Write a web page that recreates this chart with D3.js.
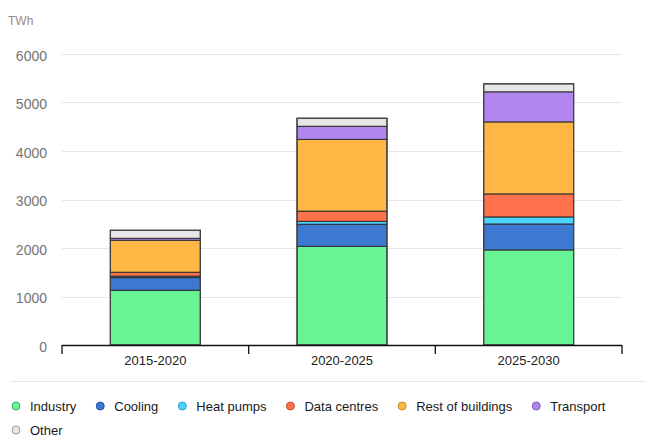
<!DOCTYPE html>
<html>
<head>
<meta charset="utf-8">
<script src="https://cdn.jsdelivr.net/npm/d3@7"></script>
<style>
  body { margin: 0; background: #fff; }
  svg { display: block; font-family: "Liberation Sans", Arial, sans-serif; }
</style>
</head>
<body>
<div id="chart-area"></div>
<script>
// data (TWh)
var periods = ["2015-2020", "2020-2025", "2025-2030"]
var seriesNames = ["Industry", "Cooling", "Heat pumps", "Data centres", "Rest of buildings", "Transport", "Other"]
var industry = [1130, 2035, 1960]
var cooling = [260, 455, 535]
var heatPumps = [30, 60, 145]
var dataCentres = [80, 210, 475]
var restOfBuildings = [660, 1480, 1485]
var transport = [40, 270, 620]
var other = [165, 165, 165]
var yTicks = [0, 1000, 2000, 3000, 4000, 5000, 6000]

var colors = ["#68f494", "#3d79d1", "#4bd4ff", "#ff724b", "#feb744", "#b286ef", "#e6e6e6"]
var legendStroke = ["#3fae62", "#2a569a", "#2b9fc4", "#c4502f", "#c98a26", "#7f5cb5", "#9a9a9a"]

var seriesValues = [industry, cooling, heatPumps, dataCentres, restOfBuildings, transport, other]

var rows = periods.map(function(p, i) {
  var row = { period: p }
  seriesNames.forEach(function(name, j) { row[name] = seriesValues[j][i] })
  return row
})

var W = 651, H = 440
var plotLeft = 62, plotRight = 622, plotTop = 54, plotBottom = 345

var svg = d3.select("#chart-area")
  .append("svg")
  .attr("width", W)
  .attr("height", H)

var x = d3.scaleBand()
  .domain(periods)
  .range([plotLeft, plotRight])
  .paddingInner(0.518)
  .paddingOuter(0.259)

var y = d3.scaleLinear()
  .domain([0, 6000])
  .range([plotBottom, plotTop])

// unit label
svg.append("text")
  .text("TWh")
  .attr("x", 8)
  .attr("y", 25)
  .attr("font-size", "12px")
  .attr("fill", "#9c8b7e")

// gridlines
svg.append("g")
  .selectAll("line")
  .data(yTicks.filter(d => d > 0))
  .enter()
  .append("line")
  .attr("x1", plotLeft)
  .attr("x2", plotRight)
  .attr("y1", d => Math.round(y(d)) + 0.5)
  .attr("y2", d => Math.round(y(d)) + 0.5)
  .attr("stroke", "#e6e6e6")
  .attr("stroke-width", 1)

// y axis labels (no line)
var yAxisCall = d3.axisLeft(y)
  .tickValues(yTicks)
  .tickSize(0)
  .tickPadding(0)
  .tickFormat(d => d)

var yAxis = svg.append("g")
  .attr("transform", "translate(47,2)")
  .call(yAxisCall)
yAxis.select(".domain").remove()
yAxis.selectAll("text")
  .attr("font-size", "14px")
  .attr("font-family", "Liberation Sans, Arial, sans-serif")
  .attr("fill", "#747474")

// stacked bars
var stack = d3.stack().keys(seriesNames)
var stacked = stack(rows)

var layers = svg.append("g")
  .selectAll("g")
  .data(stacked)
  .enter()
  .append("g")
  .attr("fill", (d, i) => colors[i])

layers.selectAll("rect")
  .data(d => d)
  .enter()
  .append("rect")
  .attr("x", d => x(d.data.period))
  .attr("width", x.bandwidth())
  .attr("y", d => y(d[1]))
  .attr("height", d => y(d[0]) - y(d[1]))
  .attr("stroke", "#2b2b2b")
  .attr("stroke-width", 1)

// bar outline
svg.append("g")
  .selectAll("rect")
  .data(rows)
  .enter()
  .append("rect")
  .attr("x", d => x(d.period))
  .attr("width", x.bandwidth())
  .attr("y", d => y(d3.sum(seriesNames, k => d[k])))
  .attr("height", d => plotBottom - y(d3.sum(seriesNames, k => d[k])))
  .attr("fill", "none")
  .attr("stroke", "#444")
  .attr("stroke-width", 1.2)

// x axis with ticks at band boundaries
var boundaries = d3.scaleLinear().domain([0, periods.length]).range([plotLeft, plotRight])
var xg = svg.append("g")
xg.append("line")
  .attr("x1", plotLeft)
  .attr("x2", plotRight)
  .attr("y1", plotBottom + 0.5)
  .attr("y2", plotBottom + 0.5)
  .attr("stroke", "#111")
  .attr("stroke-width", 1.3)
xg.selectAll(".tick")
  .data(d3.range(periods.length + 1))
  .enter()
  .append("line")
  .attr("x1", d => boundaries(d))
  .attr("x2", d => boundaries(d))
  .attr("y1", plotBottom)
  .attr("y2", plotBottom + 9)
  .attr("stroke", "#111")
  .attr("stroke-width", 1.3)
xg.selectAll("text")
  .data(periods)
  .enter()
  .append("text")
  .text(d => d)
  .attr("x", d => x(d) + x.bandwidth() / 2)
  .attr("y", 365)
  .attr("text-anchor", "middle")
  .attr("font-size", "13px")
  .attr("fill", "#222")

// legend separator
svg.append("line")
  .attr("x1", 10)
  .attr("x2", 646)
  .attr("y1", 381.5)
  .attr("y2", 381.5)
  .attr("stroke", "#e6e6e6")

// legend
var legend = svg.append("g")
var cx = 16, cy = 406, maxX = 620
seriesNames.forEach(function(name, i) {
  var item = legend.append("g")
  var t = item.append("text")
    .text(name)
    .attr("y", 4.5)
    .attr("font-size", "13px")
    .attr("fill", "#1a1a1a")
  var w = t.node().getComputedTextLength()
  if (cx + 14 + w > maxX) { cx = 16; cy += 24 }
  item.attr("transform", "translate(" + cx + "," + cy + ")")
  item.append("circle")
    .attr("r", 4)
    .attr("fill", colors[i])
    .attr("stroke", legendStroke[i])
    .attr("stroke-width", 1)
  t.attr("x", 14)
  cx += 14 + w + 24
})
</script>
</body>
</html>
